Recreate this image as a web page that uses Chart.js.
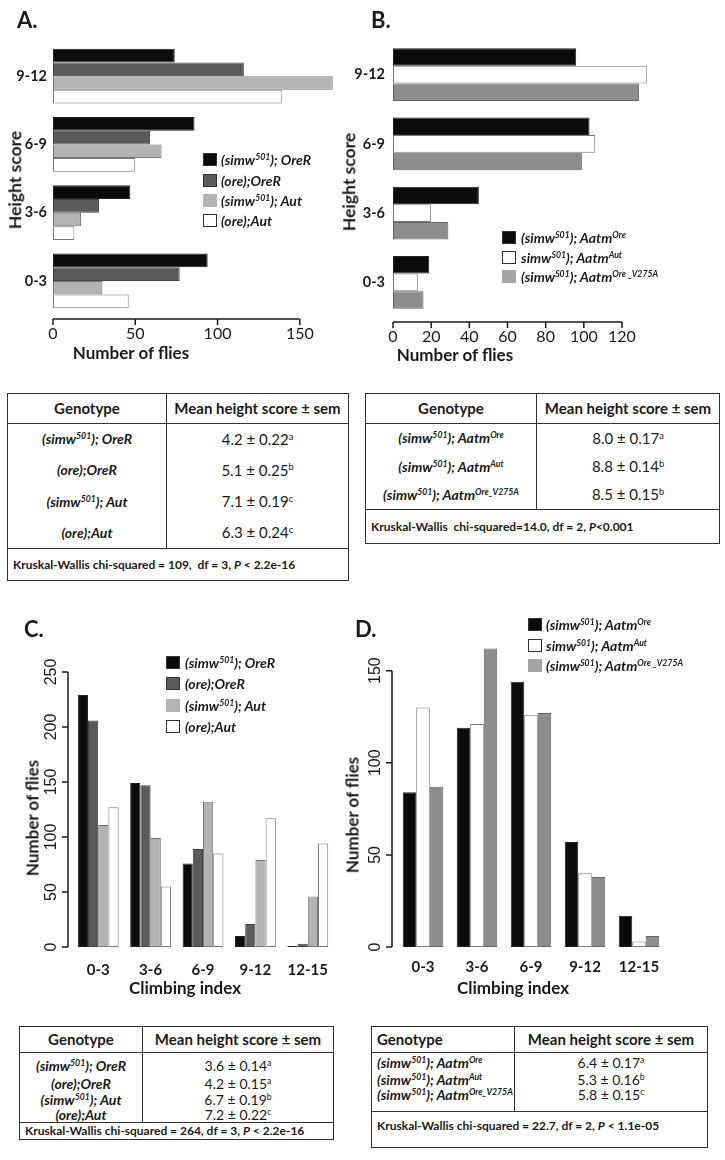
<!DOCTYPE html>
<html><head><meta charset="utf-8">
<script src="https://cdn.jsdelivr.net/npm/chart.js@4.4.1/dist/chart.umd.min.js"></script>
<style>
html,body{margin:0;padding:0;background:#fff;}
body{width:725px;height:1160px;position:relative;overflow:hidden;font-family:Lato,'Open Sans',sans-serif;color:#1a1a1a;}
canvas{position:absolute;}
.abs{position:absolute;white-space:nowrap;line-height:1;}
.pt{font-weight:700;font-size:22px;}
.ax{font-weight:700;font-size:17px;transform:translate(-50%,-50%);}
.axr{font-weight:700;font-size:17px;transform:translate(-50%,-50%) rotate(-90deg);}
.sw{position:absolute;width:14px;height:13px;box-sizing:border-box;border:1px solid #333;}
.lt{position:absolute;white-space:nowrap;line-height:1;font-weight:700;font-style:italic;font-size:14px;transform:translateY(-50%);}
sup{font-size:62%;vertical-align:baseline;position:relative;top:-0.55em;line-height:0;}
table.t{position:absolute;border-collapse:collapse;border:1.5px solid #333;table-layout:fixed;font-family:Lato,sans-serif;color:#1a1a1a;}
table.t td,table.t th{padding:0;text-align:center;vertical-align:middle;line-height:1;white-space:nowrap;}
table.t th{font-weight:700;font-size:15px;border-bottom:1.5px solid #333;}
table.t th.c1,table.t td.g,table.t td.c1{border-right:1.5px solid #333;}
table.t td.g{font-weight:700;font-style:italic;font-size:14px;}
table.t td.v{font-size:15px;}
table.t tr.kw td{border-top:1.5px solid #333;text-align:left;font-weight:700;font-size:12px;padding-left:5px;}
table.s td.v{font-size:14px;}
table.l td.g, table.l th.c1{text-align:left;padding-left:5px;}
</style>
</head>
<body>
<canvas id="cA" width="340" height="345" style="left:0;top:0;width:340px;height:345px"></canvas>
<canvas id="cB" width="391" height="345" style="left:334px;top:0;width:391px;height:345px"></canvas>
<canvas id="cC" width="350" height="400" style="left:0;top:600px;width:350px;height:400px"></canvas>
<canvas id="cD" width="391" height="400" style="left:334px;top:600px;width:391px;height:400px"></canvas>

<div class="abs pt" style="left:17px;top:9px">A.</div>
<div class="abs pt" style="left:371px;top:9px">B.</div>
<div class="abs pt" style="left:24px;top:618px">C.</div>
<div class="abs pt" style="left:355px;top:618px">D.</div>

<div class="abs axr" style="left:15px;top:180px;font-size:17.5px">Height score</div>
<div class="abs ax" style="left:131px;top:352px">Number of flies</div>
<div class="abs axr" style="left:349px;top:182px;font-size:17.5px">Height score</div>
<div class="abs ax" style="left:455px;top:354px">Number of flies</div>
<div class="abs axr" style="left:32px;top:818px">Number of flies</div>
<div class="abs ax" style="left:185px;top:987px">Climbing index</div>
<div class="abs axr" style="left:352px;top:815px">Number of flies</div>
<div class="abs ax" style="left:513px;top:987px">Climbing index</div>

<!-- Legend A -->
<div class="sw" style="left:203px;top:153px;background:#0b0b0b"></div>
<div class="lt" style="left:221px;top:160px">(simw<sup>501</sup>); OreR</div>
<div class="sw" style="left:203px;top:174px;background:#5a5a5a"></div>
<div class="lt" style="left:221px;top:181px">(ore);OreR</div>
<div class="sw" style="left:203px;top:194px;background:#b3b3b3;border-color:#b3b3b3"></div>
<div class="lt" style="left:221px;top:201px">(simw<sup>501</sup>); Aut</div>
<div class="sw" style="left:203px;top:214px;background:#fff"></div>
<div class="lt" style="left:221px;top:221px">(ore);Aut</div>

<!-- Legend B -->
<div class="sw" style="left:502px;top:231px;background:#0b0b0b"></div>
<div class="lt" style="left:521px;top:238px">(simw<sup>S01</sup>); Aatm<sup>Ore</sup></div>
<div class="sw" style="left:502px;top:251px;background:#fff"></div>
<div class="lt" style="left:521px;top:258px">simw<sup>S01</sup>); Aatm<sup>Aut</sup></div>
<div class="sw" style="left:502px;top:270px;background:#a5a5a5;border-color:#a5a5a5"></div>
<div class="lt" style="left:521px;top:277px">(simw<sup>S01</sup>); Aatm<sup>Ore _V275A</sup></div>

<!-- Legend C -->
<div class="sw" style="left:166px;top:656px;background:#0b0b0b"></div>
<div class="lt" style="left:185px;top:663px">(simw<sup>501</sup>); OreR</div>
<div class="sw" style="left:166px;top:677px;background:#5a5a5a"></div>
<div class="lt" style="left:185px;top:684px">(ore);OreR</div>
<div class="sw" style="left:166px;top:699px;background:#b3b3b3;border-color:#b3b3b3"></div>
<div class="lt" style="left:185px;top:706px">(simw<sup>501</sup>); Aut</div>
<div class="sw" style="left:166px;top:720px;background:#fff"></div>
<div class="lt" style="left:185px;top:727px">(ore);Aut</div>

<!-- Legend D -->
<div class="sw" style="left:528px;top:618px;background:#0b0b0b"></div>
<div class="lt" style="left:546px;top:625px">(simw<sup>S01</sup>); Aatm<sup>Ore</sup></div>
<div class="sw" style="left:528px;top:639px;background:#fff"></div>
<div class="lt" style="left:546px;top:646px">simw<sup>S01</sup>); Aatm<sup>Aut</sup></div>
<div class="sw" style="left:528px;top:659px;background:#a5a5a5;border-color:#a5a5a5"></div>
<div class="lt" style="left:546px;top:666px">(simw<sup>S01</sup>); Aatm<sup>Ore _V275A</sup></div>

<!-- Table A -->
<table class="t" style="left:7px;top:393px;width:342px">
<colgroup><col style="width:159px"><col></colgroup>
<tr style="height:30px"><th class="c1">Genotype</th><th>Mean height score ± sem</th></tr>
<tr style="height:31px"><td class="g">(simw<sup>501</sup>); OreR</td><td class="v">4.2 ± 0.22<sup>a</sup></td></tr>
<tr style="height:31px"><td class="g">(ore);OreR</td><td class="v">5.1 ± 0.25<sup>b</sup></td></tr>
<tr style="height:32px"><td class="g">(simw<sup>501</sup>); Aut</td><td class="v">7.1 ± 0.19<sup>c</sup></td></tr>
<tr style="height:31px"><td class="g">(ore);Aut</td><td class="v">6.3 ± 0.24<sup>c</sup></td></tr>
<tr class="kw" style="height:32px"><td colspan="2">Kruskal-Wallis chi-squared = 109,&nbsp; df = 3, <i>P</i> &lt; 2.2e-16</td></tr>
</table>

<!-- Table B -->
<table class="t" style="left:365px;top:393px;width:355px">
<colgroup><col style="width:171px"><col></colgroup>
<tr style="height:30px"><th class="c1">Genotype</th><th>Mean height score ± sem</th></tr>
<tr style="height:29px"><td class="g">(simw<sup>501</sup>); Aatm<sup>Ore</sup></td><td class="v">8.0 ± 0.17<sup>a</sup></td></tr>
<tr style="height:28px"><td class="g">(simw<sup>501</sup>); Aatm<sup>Aut</sup></td><td class="v">8.8 ± 0.14<sup>b</sup></td></tr>
<tr style="height:29px"><td class="g">(simw<sup>501</sup>); Aatm<sup>Ore_V275A</sup></td><td class="v">8.5 ± 0.15<sup>b</sup></td></tr>
<tr class="kw" style="height:34px"><td colspan="2">Kruskal-Wallis&nbsp; chi-squared=14.0, df = 2, <i>P</i>&lt;0.001</td></tr>
</table>

<!-- Table C -->
<table class="t s" style="left:19px;top:1026px;width:315px">
<colgroup><col style="width:123px"><col></colgroup>
<tr style="height:26px"><th class="c1">Genotype</th><th>Mean height score ± sem</th></tr>
<tr style="height:23px"><td class="g" style="padding-top:4px">(simw<sup>501</sup>); OreR</td><td class="v" style="padding-top:4px">3.6 ± 0.14<sup>a</sup></td></tr>
<tr style="height:16px"><td class="g">(ore);OreR</td><td class="v">4.2 ± 0.15<sup>a</sup></td></tr>
<tr style="height:16px"><td class="g">(simw<sup>501</sup>); Aut</td><td class="v">6.7 ± 0.19<sup>b</sup></td></tr>
<tr style="height:15px"><td class="g">(ore);Aut</td><td class="v">7.2 ± 0.22<sup>c</sup></td></tr>
<tr class="kw" style="height:17px"><td colspan="2">Kruskal-Wallis chi-squared = 264, df = 3, <i>P</i> &lt; 2.2e-16</td></tr>
</table>

<!-- Table D -->
<table class="t s l" style="left:371px;top:1026px;width:337px">
<colgroup><col style="width:143px"><col></colgroup>
<tr style="height:26px"><th class="c1">Genotype</th><th>Mean height score ± sem</th></tr>
<tr style="height:20px"><td class="g">(simw<sup>501</sup>); Aatm<sup>Ore</sup></td><td class="v">6.4 ± 0.17<sup>a</sup></td></tr>
<tr style="height:15px"><td class="g">(simw<sup>501</sup>); Aatm<sup>Aut</sup></td><td class="v">5.3 ± 0.16<sup>b</sup></td></tr>
<tr style="height:15px"><td class="g">(simw<sup>501</sup>); Aatm<sup>Ore_V275A</sup></td><td class="v">5.8 ± 0.15<sup>c</sup></td></tr>
<tr style="height:9px"><td class="c1"></td><td></td></tr>
<tr class="kw" style="height:36px"><td colspan="2" style="vertical-align:top;padding-top:8px">Kruskal-Wallis chi-squared = 22.7, df = 2, <i>P</i> &lt; 1.1e-05</td></tr>
</table>

<script>
// ---------- Data ----------
const heightCats = ['0-3', '3-6', '6-9', '9-12'];
const climbCats = ['0-3', '3-6', '6-9', '9-12', '12-15'];

// Panel A (height score categories, number of flies)
const aSimwOreR = [94, 47, 86, 74];
const aOreOreR  = [77, 28, 59, 116];
const aSimwAut  = [30, 17, 66, 170];
const aOreAut   = [46, 13, 50, 139];

// Panel B
const bAatmOre   = [19, 45, 103, 96];
const bAatmAut   = [13, 20, 106, 133];
const bAatmV275A = [16, 29, 99, 129];

// Panel C (climbing index categories)
const cSimwOreR = [229, 149, 76, 10, 1];
const cOreOreR  = [206, 147, 89, 21, 3];
const cSimwAut  = [111, 99, 132, 79, 46];
const cOreAut   = [127, 55, 85, 117, 94];

// Panel D
const dAatmOre   = [84, 119, 144, 57, 17];
const dAatmAut   = [130, 121, 126, 40, 3];
const dAatmV275A = [87, 162, 127, 38, 6];

// Tick labels
const ticksA = [0, 50, 100, 150];
const ticksB = [0, 20, 40, 60, 80, 100, 120];
const ticksC = [0, 50, 100, 150, 200, 250];
const ticksD = [0, 50, 100, 150];

// ---------- Styles ----------
const BLACK = '#0b0b0b', DARK = '#5a5a5a', LIGHT = '#b3b3b3', WHITE = '#ffffff', MID = '#8d8d8d';

Chart.defaults.font.family = 'Lato';
Chart.defaults.color = '#1a1a1a';

const axisLinePlugin = {
  id: 'axisLines',
  afterDraw(chart, args, o) {
    const {ctx, chartArea} = chart;
    const s = chart.scales[o.scale];
    const vals = s.ticks.map(t => t.value);
    ctx.save();
    ctx.strokeStyle = '#1a1a1a';
    ctx.lineWidth = o.width;
    ctx.beginPath();
    if (o.scale === 'x') {
      const y = chartArea.bottom + o.gap;
      ctx.moveTo(s.getPixelForValue(vals[0]), y);
      ctx.lineTo(s.getPixelForValue(vals[vals.length - 1]), y);
      vals.forEach(v => { const x = s.getPixelForValue(v); ctx.moveTo(x, y); ctx.lineTo(x, y + o.len); });
    } else {
      const x = chartArea.left - o.gap;
      ctx.moveTo(x, s.getPixelForValue(vals[0]));
      ctx.lineTo(x, s.getPixelForValue(vals[vals.length - 1]));
      vals.forEach(v => { const y = s.getPixelForValue(v); ctx.moveTo(x, y); ctx.lineTo(x - o.len, y); });
    }
    ctx.stroke();
    ctx.restore();
  }
};

function ds(label, data, bg, bc) {
  return {label, data, backgroundColor: bg, borderColor: bc, borderWidth: 1, borderSkipped: false};
}
const fixTicks = vals => scale => { scale.ticks = vals.map(v => ({value: v})); };
const noTip = {legend: {display: false}, tooltip: {enabled: false}};
const noGrid = {display: false, drawTicks: false};

// ---------- Panel A ----------
new Chart(document.getElementById('cA'), {
  type: 'bar',
  data: {labels: heightCats, datasets: [
    ds('(simw501); OreR', aSimwOreR, BLACK, '#222'),
    ds('(ore);OreR', aOreOreR, DARK, '#444'),
    ds('(simw501); Aut', aSimwAut, LIGHT, '#777'),
    ds('(ore);Aut', aOreAut, WHITE, '#777')
  ]},
  options: {
    indexAxis: 'y', responsive: false, animation: false,
    layout: {padding: {top: 42, right: 4, bottom: 0, left: 0}},
    datasets: {bar: {categoryPercentage: 0.8, barPercentage: 1}},
    plugins: {...noTip, axisLines: {scale: 'x', gap: 4, len: 6, width: 1.5}},
    scales: {
      x: {type: 'linear', min: 0, max: 172, grid: noGrid, border: {display: false},
          ticks: {font: {size: 16}, padding: 9}, afterBuildTicks: fixTicks(ticksA),
          afterFit: s => { s.height = 30; }},
      y: {reverse: true, grid: noGrid, border: {display: false},
          ticks: {font: {size: 14.5, weight: 'bold'}, padding: 6}, afterFit: s => { s.width = 53; }}
    }
  },
  plugins: [axisLinePlugin]
});

// ---------- Panel B ----------
new Chart(document.getElementById('cB'), {
  type: 'bar',
  data: {labels: heightCats, datasets: [
    ds('(simwS01); AatmOre', bAatmOre, BLACK, '#222'),
    ds('simwS01); AatmAut', bAatmAut, WHITE, '#777'),
    ds('(simwS01); AatmOre_V275A', bAatmV275A, MID, '#666')
  ]},
  options: {
    indexAxis: 'y', responsive: false, animation: false,
    layout: {padding: {top: 40, right: 72.5, bottom: 0, left: 0}},
    datasets: {bar: {categoryPercentage: 0.765, barPercentage: 1}},
    plugins: {...noTip, axisLines: {scale: 'x', gap: 5, len: 6, width: 1.5}},
    scales: {
      x: {type: 'linear', min: 0, max: 136, grid: noGrid, border: {display: false},
          ticks: {font: {size: 16}, padding: 10}, afterBuildTicks: fixTicks(ticksB),
          afterFit: s => { s.height = 28; }},
      y: {reverse: true, grid: noGrid, border: {display: false},
          ticks: {font: {size: 14.5, weight: 'bold'}, padding: 8}, afterFit: s => { s.width = 59; }}
    }
  },
  plugins: [axisLinePlugin]
});

// ---------- Panel C ----------
new Chart(document.getElementById('cC'), {
  type: 'bar',
  data: {labels: climbCats, datasets: [
    ds('(simw501); OreR', cSimwOreR, BLACK, '#222'),
    ds('(ore);OreR', cOreOreR, DARK, '#444'),
    ds('(simw501); Aut', cSimwAut, LIGHT, '#777'),
    ds('(ore);Aut', cOreAut, WHITE, '#777')
  ]},
  options: {
    responsive: false, animation: false,
    layout: {padding: {top: 72, right: 16, bottom: 0, left: 0}},
    datasets: {bar: {categoryPercentage: 0.78, barPercentage: 1}},
    plugins: {...noTip, axisLines: {scale: 'y', gap: 4, len: 6, width: 1.5}},
    scales: {
      x: {grid: noGrid, border: {display: false},
          ticks: {font: {size: 15, weight: 'bold'}, padding: 14}, afterFit: s => { s.height = 53; }},
      y: {type: 'linear', min: 0, max: 250, grid: noGrid, border: {display: false},
          ticks: {font: {family: 'Liberation Sans', size: 16}, minRotation: 90, maxRotation: 90, crossAlign: 'center', padding: 6.6},
          afterBuildTicks: fixTicks(ticksC), afterFit: s => { s.width = 72; }}
    }
  },
  plugins: [axisLinePlugin]
});

// ---------- Panel D ----------
new Chart(document.getElementById('cD'), {
  type: 'bar',
  data: {labels: climbCats, datasets: [
    ds('(simwS01); AatmOre', dAatmOre, BLACK, '#222'),
    ds('simwS01); AatmAut', dAatmAut, WHITE, '#777'),
    ds('(simwS01); AatmOre_V275A', dAatmV275A, MID, '#666')
  ]},
  options: {
    responsive: false, animation: false,
    layout: {padding: {top: 43, right: 59, bottom: 0, left: 0}},
    datasets: {bar: {categoryPercentage: 0.75, barPercentage: 1}},
    plugins: {...noTip, axisLines: {scale: 'y', gap: 4, len: 6, width: 1.5}},
    scales: {
      x: {grid: noGrid, border: {display: false},
          ticks: {font: {size: 15, weight: 'bold'}, padding: 11}, afterFit: s => { s.height = 53; }},
      y: {type: 'linear', min: 0, max: 165, grid: noGrid, border: {display: false},
          ticks: {font: {family: 'Liberation Sans', size: 16}, minRotation: 90, maxRotation: 90, crossAlign: 'center', padding: 6.6},
          afterBuildTicks: fixTicks(ticksD), afterFit: s => { s.width = 62; }}
    }
  },
  plugins: [axisLinePlugin]
});
</script>
</body></html>
